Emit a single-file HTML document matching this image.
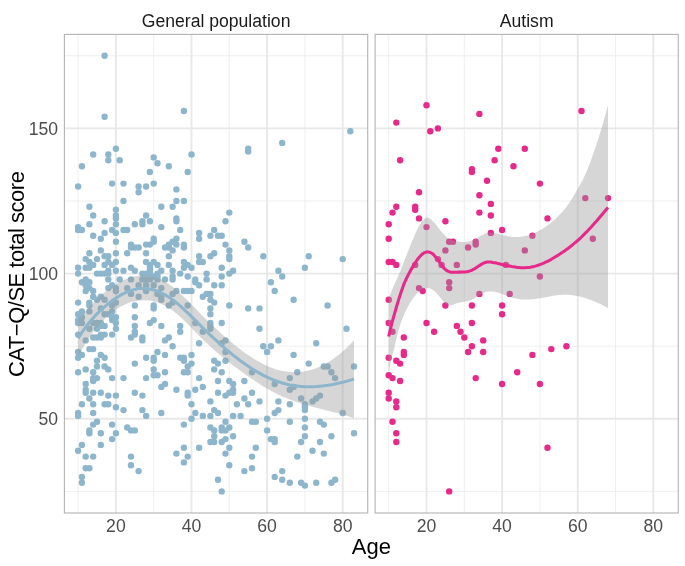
<!DOCTYPE html>
<html><head><meta charset="utf-8"><title>CAT-Q/SE total score by age</title>
<style>
html,body{margin:0;padding:0;background:#fff;}
svg{display:block;}
text{font-family:"Liberation Sans",Arial,sans-serif;}
.ax{font-size:17.6px;fill:#4d4d4d;}
.st{font-size:17.6px;fill:#1a1a1a;}
.ti{font-size:22px;fill:#000;}
</style></head><body>
<svg width="685" height="566" viewBox="0 0 685 566">
<rect width="685" height="566" fill="#fff"/>

<g>
<line x1="78.10" x2="78.10" y1="34.4" y2="513.0" stroke="#eeeeee" stroke-width="0.95"/>
<line x1="153.70" x2="153.70" y1="34.4" y2="513.0" stroke="#eeeeee" stroke-width="0.95"/>
<line x1="229.30" x2="229.30" y1="34.4" y2="513.0" stroke="#eeeeee" stroke-width="0.95"/>
<line x1="304.90" x2="304.90" y1="34.4" y2="513.0" stroke="#eeeeee" stroke-width="0.95"/>
<line x1="64.4" x2="367.7" y1="491.40" y2="491.40" stroke="#eeeeee" stroke-width="0.95"/>
<line x1="64.4" x2="367.7" y1="346.20" y2="346.20" stroke="#eeeeee" stroke-width="0.95"/>
<line x1="64.4" x2="367.7" y1="201.00" y2="201.00" stroke="#eeeeee" stroke-width="0.95"/>
<line x1="64.4" x2="367.7" y1="55.80" y2="55.80" stroke="#eeeeee" stroke-width="0.95"/>
<line x1="115.90" x2="115.90" y1="34.4" y2="513.0" stroke="#e8e8e8" stroke-width="1.9"/>
<line x1="191.50" x2="191.50" y1="34.4" y2="513.0" stroke="#e8e8e8" stroke-width="1.9"/>
<line x1="267.10" x2="267.10" y1="34.4" y2="513.0" stroke="#e8e8e8" stroke-width="1.9"/>
<line x1="342.70" x2="342.70" y1="34.4" y2="513.0" stroke="#e8e8e8" stroke-width="1.9"/>
<line x1="64.4" x2="367.7" y1="418.80" y2="418.80" stroke="#e8e8e8" stroke-width="1.9"/>
<line x1="64.4" x2="367.7" y1="273.60" y2="273.60" stroke="#e8e8e8" stroke-width="1.9"/>
<line x1="64.4" x2="367.7" y1="128.40" y2="128.40" stroke="#e8e8e8" stroke-width="1.9"/>
</g>
<g>
<line x1="388.72" x2="388.72" y1="34.4" y2="513.0" stroke="#eeeeee" stroke-width="0.95"/>
<line x1="464.32" x2="464.32" y1="34.4" y2="513.0" stroke="#eeeeee" stroke-width="0.95"/>
<line x1="539.92" x2="539.92" y1="34.4" y2="513.0" stroke="#eeeeee" stroke-width="0.95"/>
<line x1="615.52" x2="615.52" y1="34.4" y2="513.0" stroke="#eeeeee" stroke-width="0.95"/>
<line x1="375.1" x2="678.3" y1="491.40" y2="491.40" stroke="#eeeeee" stroke-width="0.95"/>
<line x1="375.1" x2="678.3" y1="346.20" y2="346.20" stroke="#eeeeee" stroke-width="0.95"/>
<line x1="375.1" x2="678.3" y1="201.00" y2="201.00" stroke="#eeeeee" stroke-width="0.95"/>
<line x1="375.1" x2="678.3" y1="55.80" y2="55.80" stroke="#eeeeee" stroke-width="0.95"/>
<line x1="426.52" x2="426.52" y1="34.4" y2="513.0" stroke="#e8e8e8" stroke-width="1.9"/>
<line x1="502.12" x2="502.12" y1="34.4" y2="513.0" stroke="#e8e8e8" stroke-width="1.9"/>
<line x1="577.72" x2="577.72" y1="34.4" y2="513.0" stroke="#e8e8e8" stroke-width="1.9"/>
<line x1="653.32" x2="653.32" y1="34.4" y2="513.0" stroke="#e8e8e8" stroke-width="1.9"/>
<line x1="375.1" x2="678.3" y1="418.80" y2="418.80" stroke="#e8e8e8" stroke-width="1.9"/>
<line x1="375.1" x2="678.3" y1="273.60" y2="273.60" stroke="#e8e8e8" stroke-width="1.9"/>
<line x1="375.1" x2="678.3" y1="128.40" y2="128.40" stroke="#e8e8e8" stroke-width="1.9"/>
</g>
<g fill="#8DB6CD">
<circle cx="78.1" cy="450.7" r="3.2"/>
<circle cx="78.1" cy="415.9" r="3.2"/>
<circle cx="78.1" cy="413.0" r="3.2"/>
<circle cx="78.1" cy="372.3" r="3.2"/>
<circle cx="78.1" cy="357.8" r="3.2"/>
<circle cx="78.1" cy="352.0" r="3.2"/>
<circle cx="78.1" cy="334.6" r="3.2"/>
<circle cx="78.1" cy="323.0" r="3.2"/>
<circle cx="78.1" cy="320.1" r="3.2"/>
<circle cx="78.1" cy="314.3" r="3.2"/>
<circle cx="78.1" cy="302.6" r="3.2"/>
<circle cx="78.1" cy="273.6" r="3.2"/>
<circle cx="78.1" cy="267.8" r="3.2"/>
<circle cx="78.1" cy="230.0" r="3.2"/>
<circle cx="78.1" cy="227.1" r="3.2"/>
<circle cx="78.1" cy="186.5" r="3.2"/>
<circle cx="81.9" cy="482.7" r="3.2"/>
<circle cx="81.9" cy="476.9" r="3.2"/>
<circle cx="81.9" cy="444.9" r="3.2"/>
<circle cx="81.9" cy="404.3" r="3.2"/>
<circle cx="81.9" cy="354.9" r="3.2"/>
<circle cx="81.9" cy="323.0" r="3.2"/>
<circle cx="81.9" cy="317.2" r="3.2"/>
<circle cx="81.9" cy="311.4" r="3.2"/>
<circle cx="81.9" cy="282.3" r="3.2"/>
<circle cx="81.9" cy="230.0" r="3.2"/>
<circle cx="81.9" cy="166.2" r="3.2"/>
<circle cx="85.7" cy="468.2" r="3.2"/>
<circle cx="85.7" cy="456.6" r="3.2"/>
<circle cx="85.7" cy="392.7" r="3.2"/>
<circle cx="85.7" cy="389.8" r="3.2"/>
<circle cx="85.7" cy="384.0" r="3.2"/>
<circle cx="85.7" cy="369.4" r="3.2"/>
<circle cx="85.7" cy="340.4" r="3.2"/>
<circle cx="85.7" cy="291.0" r="3.2"/>
<circle cx="85.7" cy="285.2" r="3.2"/>
<circle cx="85.7" cy="282.3" r="3.2"/>
<circle cx="85.7" cy="279.4" r="3.2"/>
<circle cx="85.7" cy="267.8" r="3.2"/>
<circle cx="85.7" cy="259.1" r="3.2"/>
<circle cx="89.4" cy="468.2" r="3.2"/>
<circle cx="89.4" cy="433.3" r="3.2"/>
<circle cx="89.4" cy="430.4" r="3.2"/>
<circle cx="89.4" cy="398.5" r="3.2"/>
<circle cx="89.4" cy="349.1" r="3.2"/>
<circle cx="89.4" cy="328.8" r="3.2"/>
<circle cx="89.4" cy="311.4" r="3.2"/>
<circle cx="89.4" cy="305.5" r="3.2"/>
<circle cx="89.4" cy="302.6" r="3.2"/>
<circle cx="89.4" cy="288.1" r="3.2"/>
<circle cx="89.4" cy="282.3" r="3.2"/>
<circle cx="89.4" cy="267.8" r="3.2"/>
<circle cx="89.4" cy="262.0" r="3.2"/>
<circle cx="89.4" cy="253.3" r="3.2"/>
<circle cx="89.4" cy="224.2" r="3.2"/>
<circle cx="89.4" cy="206.8" r="3.2"/>
<circle cx="93.2" cy="456.6" r="3.2"/>
<circle cx="93.2" cy="424.6" r="3.2"/>
<circle cx="93.2" cy="413.0" r="3.2"/>
<circle cx="93.2" cy="404.3" r="3.2"/>
<circle cx="93.2" cy="392.7" r="3.2"/>
<circle cx="93.2" cy="381.0" r="3.2"/>
<circle cx="93.2" cy="378.1" r="3.2"/>
<circle cx="93.2" cy="372.3" r="3.2"/>
<circle cx="93.2" cy="349.1" r="3.2"/>
<circle cx="93.2" cy="337.5" r="3.2"/>
<circle cx="93.2" cy="323.0" r="3.2"/>
<circle cx="93.2" cy="296.8" r="3.2"/>
<circle cx="93.2" cy="291.0" r="3.2"/>
<circle cx="93.2" cy="264.9" r="3.2"/>
<circle cx="93.2" cy="235.8" r="3.2"/>
<circle cx="93.2" cy="215.5" r="3.2"/>
<circle cx="93.2" cy="154.5" r="3.2"/>
<circle cx="97.0" cy="421.7" r="3.2"/>
<circle cx="97.0" cy="378.1" r="3.2"/>
<circle cx="97.0" cy="366.5" r="3.2"/>
<circle cx="97.0" cy="360.7" r="3.2"/>
<circle cx="97.0" cy="337.5" r="3.2"/>
<circle cx="97.0" cy="328.8" r="3.2"/>
<circle cx="97.0" cy="323.0" r="3.2"/>
<circle cx="97.0" cy="299.7" r="3.2"/>
<circle cx="97.0" cy="273.6" r="3.2"/>
<circle cx="97.0" cy="259.1" r="3.2"/>
<circle cx="100.8" cy="444.9" r="3.2"/>
<circle cx="100.8" cy="433.3" r="3.2"/>
<circle cx="100.8" cy="392.7" r="3.2"/>
<circle cx="100.8" cy="354.9" r="3.2"/>
<circle cx="100.8" cy="337.5" r="3.2"/>
<circle cx="100.8" cy="334.6" r="3.2"/>
<circle cx="100.8" cy="325.9" r="3.2"/>
<circle cx="100.8" cy="323.0" r="3.2"/>
<circle cx="100.8" cy="308.4" r="3.2"/>
<circle cx="100.8" cy="296.8" r="3.2"/>
<circle cx="100.8" cy="273.6" r="3.2"/>
<circle cx="100.8" cy="250.4" r="3.2"/>
<circle cx="100.8" cy="238.8" r="3.2"/>
<circle cx="104.6" cy="404.3" r="3.2"/>
<circle cx="104.6" cy="366.5" r="3.2"/>
<circle cx="104.6" cy="357.8" r="3.2"/>
<circle cx="104.6" cy="334.6" r="3.2"/>
<circle cx="104.6" cy="325.9" r="3.2"/>
<circle cx="104.6" cy="314.3" r="3.2"/>
<circle cx="104.6" cy="299.7" r="3.2"/>
<circle cx="104.6" cy="273.6" r="3.2"/>
<circle cx="104.6" cy="264.9" r="3.2"/>
<circle cx="104.6" cy="256.2" r="3.2"/>
<circle cx="104.6" cy="232.9" r="3.2"/>
<circle cx="104.6" cy="221.3" r="3.2"/>
<circle cx="104.6" cy="116.8" r="3.2"/>
<circle cx="104.6" cy="55.8" r="3.2"/>
<circle cx="108.3" cy="404.3" r="3.2"/>
<circle cx="108.3" cy="395.6" r="3.2"/>
<circle cx="108.3" cy="369.4" r="3.2"/>
<circle cx="108.3" cy="314.3" r="3.2"/>
<circle cx="108.3" cy="288.1" r="3.2"/>
<circle cx="108.3" cy="279.4" r="3.2"/>
<circle cx="108.3" cy="273.6" r="3.2"/>
<circle cx="108.3" cy="270.7" r="3.2"/>
<circle cx="108.3" cy="262.0" r="3.2"/>
<circle cx="108.3" cy="256.2" r="3.2"/>
<circle cx="108.3" cy="160.3" r="3.2"/>
<circle cx="108.3" cy="154.5" r="3.2"/>
<circle cx="112.1" cy="439.1" r="3.2"/>
<circle cx="112.1" cy="424.6" r="3.2"/>
<circle cx="112.1" cy="378.1" r="3.2"/>
<circle cx="112.1" cy="334.6" r="3.2"/>
<circle cx="112.1" cy="320.1" r="3.2"/>
<circle cx="112.1" cy="317.2" r="3.2"/>
<circle cx="112.1" cy="311.4" r="3.2"/>
<circle cx="112.1" cy="305.5" r="3.2"/>
<circle cx="112.1" cy="285.2" r="3.2"/>
<circle cx="112.1" cy="264.9" r="3.2"/>
<circle cx="112.1" cy="230.0" r="3.2"/>
<circle cx="112.1" cy="183.6" r="3.2"/>
<circle cx="115.9" cy="433.3" r="3.2"/>
<circle cx="115.9" cy="407.2" r="3.2"/>
<circle cx="115.9" cy="395.6" r="3.2"/>
<circle cx="115.9" cy="328.8" r="3.2"/>
<circle cx="115.9" cy="323.0" r="3.2"/>
<circle cx="115.9" cy="317.2" r="3.2"/>
<circle cx="115.9" cy="302.6" r="3.2"/>
<circle cx="115.9" cy="291.0" r="3.2"/>
<circle cx="115.9" cy="288.1" r="3.2"/>
<circle cx="115.9" cy="270.7" r="3.2"/>
<circle cx="115.9" cy="262.0" r="3.2"/>
<circle cx="115.9" cy="253.3" r="3.2"/>
<circle cx="115.9" cy="241.7" r="3.2"/>
<circle cx="115.9" cy="232.9" r="3.2"/>
<circle cx="115.9" cy="224.2" r="3.2"/>
<circle cx="115.9" cy="218.4" r="3.2"/>
<circle cx="115.9" cy="215.5" r="3.2"/>
<circle cx="115.9" cy="209.7" r="3.2"/>
<circle cx="115.9" cy="148.7" r="3.2"/>
<circle cx="119.7" cy="279.4" r="3.2"/>
<circle cx="119.7" cy="160.3" r="3.2"/>
<circle cx="123.5" cy="410.1" r="3.2"/>
<circle cx="123.5" cy="378.1" r="3.2"/>
<circle cx="123.5" cy="270.7" r="3.2"/>
<circle cx="123.5" cy="230.0" r="3.2"/>
<circle cx="123.5" cy="201.0" r="3.2"/>
<circle cx="123.5" cy="183.6" r="3.2"/>
<circle cx="127.2" cy="427.5" r="3.2"/>
<circle cx="127.2" cy="288.1" r="3.2"/>
<circle cx="127.2" cy="253.3" r="3.2"/>
<circle cx="127.2" cy="230.0" r="3.2"/>
<circle cx="131.0" cy="465.3" r="3.2"/>
<circle cx="131.0" cy="456.6" r="3.2"/>
<circle cx="131.0" cy="430.4" r="3.2"/>
<circle cx="131.0" cy="337.5" r="3.2"/>
<circle cx="131.0" cy="293.9" r="3.2"/>
<circle cx="131.0" cy="279.4" r="3.2"/>
<circle cx="131.0" cy="267.8" r="3.2"/>
<circle cx="131.0" cy="247.5" r="3.2"/>
<circle cx="131.0" cy="244.6" r="3.2"/>
<circle cx="134.8" cy="430.4" r="3.2"/>
<circle cx="134.8" cy="392.7" r="3.2"/>
<circle cx="134.8" cy="363.6" r="3.2"/>
<circle cx="134.8" cy="334.6" r="3.2"/>
<circle cx="134.8" cy="331.7" r="3.2"/>
<circle cx="134.8" cy="325.9" r="3.2"/>
<circle cx="134.8" cy="317.2" r="3.2"/>
<circle cx="134.8" cy="305.5" r="3.2"/>
<circle cx="134.8" cy="270.7" r="3.2"/>
<circle cx="134.8" cy="247.5" r="3.2"/>
<circle cx="134.8" cy="224.2" r="3.2"/>
<circle cx="138.6" cy="471.1" r="3.2"/>
<circle cx="138.6" cy="296.8" r="3.2"/>
<circle cx="138.6" cy="285.2" r="3.2"/>
<circle cx="138.6" cy="247.5" r="3.2"/>
<circle cx="138.6" cy="192.3" r="3.2"/>
<circle cx="138.6" cy="186.5" r="3.2"/>
<circle cx="142.4" cy="410.1" r="3.2"/>
<circle cx="142.4" cy="395.6" r="3.2"/>
<circle cx="142.4" cy="340.4" r="3.2"/>
<circle cx="142.4" cy="337.5" r="3.2"/>
<circle cx="142.4" cy="279.4" r="3.2"/>
<circle cx="142.4" cy="273.6" r="3.2"/>
<circle cx="142.4" cy="224.2" r="3.2"/>
<circle cx="142.4" cy="221.3" r="3.2"/>
<circle cx="146.1" cy="415.9" r="3.2"/>
<circle cx="146.1" cy="378.1" r="3.2"/>
<circle cx="146.1" cy="357.8" r="3.2"/>
<circle cx="146.1" cy="291.0" r="3.2"/>
<circle cx="146.1" cy="285.2" r="3.2"/>
<circle cx="146.1" cy="279.4" r="3.2"/>
<circle cx="146.1" cy="273.6" r="3.2"/>
<circle cx="146.1" cy="262.0" r="3.2"/>
<circle cx="146.1" cy="253.3" r="3.2"/>
<circle cx="146.1" cy="244.6" r="3.2"/>
<circle cx="146.1" cy="215.5" r="3.2"/>
<circle cx="146.1" cy="186.5" r="3.2"/>
<circle cx="149.9" cy="323.0" r="3.2"/>
<circle cx="149.9" cy="279.4" r="3.2"/>
<circle cx="149.9" cy="273.6" r="3.2"/>
<circle cx="149.9" cy="270.7" r="3.2"/>
<circle cx="149.9" cy="267.8" r="3.2"/>
<circle cx="149.9" cy="264.9" r="3.2"/>
<circle cx="149.9" cy="244.6" r="3.2"/>
<circle cx="149.9" cy="221.3" r="3.2"/>
<circle cx="149.9" cy="172.0" r="3.2"/>
<circle cx="153.7" cy="375.2" r="3.2"/>
<circle cx="153.7" cy="369.4" r="3.2"/>
<circle cx="153.7" cy="360.7" r="3.2"/>
<circle cx="153.7" cy="357.8" r="3.2"/>
<circle cx="153.7" cy="320.1" r="3.2"/>
<circle cx="153.7" cy="308.4" r="3.2"/>
<circle cx="153.7" cy="305.5" r="3.2"/>
<circle cx="153.7" cy="285.2" r="3.2"/>
<circle cx="153.7" cy="276.5" r="3.2"/>
<circle cx="153.7" cy="262.0" r="3.2"/>
<circle cx="153.7" cy="241.7" r="3.2"/>
<circle cx="153.7" cy="238.8" r="3.2"/>
<circle cx="153.7" cy="183.6" r="3.2"/>
<circle cx="153.7" cy="157.4" r="3.2"/>
<circle cx="157.5" cy="375.2" r="3.2"/>
<circle cx="157.5" cy="352.0" r="3.2"/>
<circle cx="157.5" cy="293.9" r="3.2"/>
<circle cx="157.5" cy="279.4" r="3.2"/>
<circle cx="157.5" cy="276.5" r="3.2"/>
<circle cx="157.5" cy="273.6" r="3.2"/>
<circle cx="157.5" cy="264.9" r="3.2"/>
<circle cx="157.5" cy="163.2" r="3.2"/>
<circle cx="161.3" cy="413.0" r="3.2"/>
<circle cx="161.3" cy="386.9" r="3.2"/>
<circle cx="161.3" cy="325.9" r="3.2"/>
<circle cx="161.3" cy="299.7" r="3.2"/>
<circle cx="161.3" cy="296.8" r="3.2"/>
<circle cx="161.3" cy="288.1" r="3.2"/>
<circle cx="161.3" cy="270.7" r="3.2"/>
<circle cx="161.3" cy="227.1" r="3.2"/>
<circle cx="161.3" cy="206.8" r="3.2"/>
<circle cx="165.0" cy="384.0" r="3.2"/>
<circle cx="165.0" cy="372.3" r="3.2"/>
<circle cx="165.0" cy="354.9" r="3.2"/>
<circle cx="165.0" cy="340.4" r="3.2"/>
<circle cx="165.0" cy="279.4" r="3.2"/>
<circle cx="165.0" cy="247.5" r="3.2"/>
<circle cx="168.8" cy="337.5" r="3.2"/>
<circle cx="168.8" cy="305.5" r="3.2"/>
<circle cx="168.8" cy="264.9" r="3.2"/>
<circle cx="168.8" cy="256.2" r="3.2"/>
<circle cx="168.8" cy="247.5" r="3.2"/>
<circle cx="168.8" cy="244.6" r="3.2"/>
<circle cx="168.8" cy="166.2" r="3.2"/>
<circle cx="172.6" cy="346.2" r="3.2"/>
<circle cx="172.6" cy="302.6" r="3.2"/>
<circle cx="172.6" cy="293.9" r="3.2"/>
<circle cx="172.6" cy="279.4" r="3.2"/>
<circle cx="172.6" cy="276.5" r="3.2"/>
<circle cx="172.6" cy="270.7" r="3.2"/>
<circle cx="172.6" cy="250.4" r="3.2"/>
<circle cx="172.6" cy="241.7" r="3.2"/>
<circle cx="172.6" cy="206.8" r="3.2"/>
<circle cx="176.4" cy="453.6" r="3.2"/>
<circle cx="176.4" cy="389.8" r="3.2"/>
<circle cx="176.4" cy="291.0" r="3.2"/>
<circle cx="176.4" cy="244.6" r="3.2"/>
<circle cx="176.4" cy="238.8" r="3.2"/>
<circle cx="176.4" cy="221.3" r="3.2"/>
<circle cx="176.4" cy="218.4" r="3.2"/>
<circle cx="176.4" cy="201.0" r="3.2"/>
<circle cx="176.4" cy="189.4" r="3.2"/>
<circle cx="180.2" cy="357.8" r="3.2"/>
<circle cx="180.2" cy="331.7" r="3.2"/>
<circle cx="180.2" cy="325.9" r="3.2"/>
<circle cx="180.2" cy="273.6" r="3.2"/>
<circle cx="180.2" cy="230.0" r="3.2"/>
<circle cx="183.9" cy="462.4" r="3.2"/>
<circle cx="183.9" cy="447.8" r="3.2"/>
<circle cx="183.9" cy="424.6" r="3.2"/>
<circle cx="183.9" cy="372.3" r="3.2"/>
<circle cx="183.9" cy="360.7" r="3.2"/>
<circle cx="183.9" cy="357.8" r="3.2"/>
<circle cx="183.9" cy="291.0" r="3.2"/>
<circle cx="183.9" cy="267.8" r="3.2"/>
<circle cx="183.9" cy="262.0" r="3.2"/>
<circle cx="183.9" cy="247.5" r="3.2"/>
<circle cx="183.9" cy="244.6" r="3.2"/>
<circle cx="183.9" cy="201.0" r="3.2"/>
<circle cx="183.9" cy="111.0" r="3.2"/>
<circle cx="187.7" cy="456.6" r="3.2"/>
<circle cx="187.7" cy="395.6" r="3.2"/>
<circle cx="187.7" cy="392.7" r="3.2"/>
<circle cx="187.7" cy="372.3" r="3.2"/>
<circle cx="187.7" cy="366.5" r="3.2"/>
<circle cx="187.7" cy="305.5" r="3.2"/>
<circle cx="187.7" cy="291.0" r="3.2"/>
<circle cx="187.7" cy="276.5" r="3.2"/>
<circle cx="187.7" cy="264.9" r="3.2"/>
<circle cx="187.7" cy="172.0" r="3.2"/>
<circle cx="191.5" cy="418.8" r="3.2"/>
<circle cx="191.5" cy="404.3" r="3.2"/>
<circle cx="191.5" cy="363.6" r="3.2"/>
<circle cx="191.5" cy="354.9" r="3.2"/>
<circle cx="191.5" cy="291.0" r="3.2"/>
<circle cx="191.5" cy="267.8" r="3.2"/>
<circle cx="191.5" cy="154.5" r="3.2"/>
<circle cx="195.3" cy="413.0" r="3.2"/>
<circle cx="195.3" cy="389.8" r="3.2"/>
<circle cx="195.3" cy="323.0" r="3.2"/>
<circle cx="195.3" cy="282.3" r="3.2"/>
<circle cx="195.3" cy="279.4" r="3.2"/>
<circle cx="199.1" cy="447.8" r="3.2"/>
<circle cx="199.1" cy="378.1" r="3.2"/>
<circle cx="199.1" cy="343.3" r="3.2"/>
<circle cx="199.1" cy="285.2" r="3.2"/>
<circle cx="199.1" cy="262.0" r="3.2"/>
<circle cx="199.1" cy="256.2" r="3.2"/>
<circle cx="199.1" cy="238.8" r="3.2"/>
<circle cx="199.1" cy="232.9" r="3.2"/>
<circle cx="202.8" cy="415.9" r="3.2"/>
<circle cx="202.8" cy="386.9" r="3.2"/>
<circle cx="202.8" cy="331.7" r="3.2"/>
<circle cx="202.8" cy="296.8" r="3.2"/>
<circle cx="202.8" cy="262.0" r="3.2"/>
<circle cx="206.6" cy="293.9" r="3.2"/>
<circle cx="206.6" cy="279.4" r="3.2"/>
<circle cx="206.6" cy="273.6" r="3.2"/>
<circle cx="210.4" cy="442.0" r="3.2"/>
<circle cx="210.4" cy="427.5" r="3.2"/>
<circle cx="210.4" cy="415.9" r="3.2"/>
<circle cx="210.4" cy="401.4" r="3.2"/>
<circle cx="210.4" cy="328.8" r="3.2"/>
<circle cx="210.4" cy="325.9" r="3.2"/>
<circle cx="210.4" cy="323.0" r="3.2"/>
<circle cx="210.4" cy="314.3" r="3.2"/>
<circle cx="210.4" cy="308.4" r="3.2"/>
<circle cx="210.4" cy="299.7" r="3.2"/>
<circle cx="210.4" cy="293.9" r="3.2"/>
<circle cx="210.4" cy="256.2" r="3.2"/>
<circle cx="210.4" cy="235.8" r="3.2"/>
<circle cx="214.2" cy="442.0" r="3.2"/>
<circle cx="214.2" cy="436.2" r="3.2"/>
<circle cx="214.2" cy="430.4" r="3.2"/>
<circle cx="214.2" cy="410.1" r="3.2"/>
<circle cx="214.2" cy="369.4" r="3.2"/>
<circle cx="214.2" cy="360.7" r="3.2"/>
<circle cx="214.2" cy="302.6" r="3.2"/>
<circle cx="214.2" cy="285.2" r="3.2"/>
<circle cx="214.2" cy="253.3" r="3.2"/>
<circle cx="214.2" cy="230.0" r="3.2"/>
<circle cx="218.0" cy="479.8" r="3.2"/>
<circle cx="218.0" cy="413.0" r="3.2"/>
<circle cx="218.0" cy="392.7" r="3.2"/>
<circle cx="218.0" cy="381.0" r="3.2"/>
<circle cx="218.0" cy="363.6" r="3.2"/>
<circle cx="218.0" cy="235.8" r="3.2"/>
<circle cx="221.7" cy="491.4" r="3.2"/>
<circle cx="221.7" cy="442.0" r="3.2"/>
<circle cx="221.7" cy="430.4" r="3.2"/>
<circle cx="221.7" cy="427.5" r="3.2"/>
<circle cx="221.7" cy="372.3" r="3.2"/>
<circle cx="221.7" cy="343.3" r="3.2"/>
<circle cx="221.7" cy="323.0" r="3.2"/>
<circle cx="221.7" cy="285.2" r="3.2"/>
<circle cx="221.7" cy="276.5" r="3.2"/>
<circle cx="221.7" cy="267.8" r="3.2"/>
<circle cx="221.7" cy="235.8" r="3.2"/>
<circle cx="225.5" cy="453.6" r="3.2"/>
<circle cx="225.5" cy="439.1" r="3.2"/>
<circle cx="225.5" cy="430.4" r="3.2"/>
<circle cx="225.5" cy="421.7" r="3.2"/>
<circle cx="225.5" cy="395.6" r="3.2"/>
<circle cx="225.5" cy="360.7" r="3.2"/>
<circle cx="225.5" cy="352.0" r="3.2"/>
<circle cx="225.5" cy="340.4" r="3.2"/>
<circle cx="225.5" cy="244.6" r="3.2"/>
<circle cx="225.5" cy="221.3" r="3.2"/>
<circle cx="229.3" cy="465.3" r="3.2"/>
<circle cx="229.3" cy="447.8" r="3.2"/>
<circle cx="229.3" cy="427.5" r="3.2"/>
<circle cx="229.3" cy="392.7" r="3.2"/>
<circle cx="229.3" cy="381.0" r="3.2"/>
<circle cx="229.3" cy="305.5" r="3.2"/>
<circle cx="229.3" cy="273.6" r="3.2"/>
<circle cx="229.3" cy="259.1" r="3.2"/>
<circle cx="229.3" cy="256.2" r="3.2"/>
<circle cx="229.3" cy="250.4" r="3.2"/>
<circle cx="229.3" cy="212.6" r="3.2"/>
<circle cx="233.1" cy="436.2" r="3.2"/>
<circle cx="233.1" cy="415.9" r="3.2"/>
<circle cx="233.1" cy="392.7" r="3.2"/>
<circle cx="233.1" cy="389.8" r="3.2"/>
<circle cx="233.1" cy="384.0" r="3.2"/>
<circle cx="233.1" cy="270.7" r="3.2"/>
<circle cx="236.9" cy="404.3" r="3.2"/>
<circle cx="240.6" cy="415.9" r="3.2"/>
<circle cx="244.4" cy="471.1" r="3.2"/>
<circle cx="244.4" cy="398.5" r="3.2"/>
<circle cx="244.4" cy="381.0" r="3.2"/>
<circle cx="244.4" cy="241.7" r="3.2"/>
<circle cx="248.2" cy="404.3" r="3.2"/>
<circle cx="248.2" cy="308.4" r="3.2"/>
<circle cx="248.2" cy="247.5" r="3.2"/>
<circle cx="248.2" cy="151.6" r="3.2"/>
<circle cx="248.2" cy="148.7" r="3.2"/>
<circle cx="252.0" cy="468.2" r="3.2"/>
<circle cx="252.0" cy="456.6" r="3.2"/>
<circle cx="252.0" cy="421.7" r="3.2"/>
<circle cx="252.0" cy="392.7" r="3.2"/>
<circle cx="252.0" cy="372.3" r="3.2"/>
<circle cx="255.8" cy="447.8" r="3.2"/>
<circle cx="255.8" cy="421.7" r="3.2"/>
<circle cx="259.5" cy="401.4" r="3.2"/>
<circle cx="259.5" cy="328.8" r="3.2"/>
<circle cx="259.5" cy="308.4" r="3.2"/>
<circle cx="263.3" cy="346.2" r="3.2"/>
<circle cx="263.3" cy="256.2" r="3.2"/>
<circle cx="267.1" cy="430.4" r="3.2"/>
<circle cx="267.1" cy="418.8" r="3.2"/>
<circle cx="267.1" cy="352.0" r="3.2"/>
<circle cx="270.9" cy="439.1" r="3.2"/>
<circle cx="270.9" cy="346.2" r="3.2"/>
<circle cx="270.9" cy="282.3" r="3.2"/>
<circle cx="274.7" cy="476.9" r="3.2"/>
<circle cx="274.7" cy="442.0" r="3.2"/>
<circle cx="274.7" cy="439.1" r="3.2"/>
<circle cx="274.7" cy="413.0" r="3.2"/>
<circle cx="274.7" cy="384.0" r="3.2"/>
<circle cx="274.7" cy="291.0" r="3.2"/>
<circle cx="278.4" cy="410.1" r="3.2"/>
<circle cx="278.4" cy="401.4" r="3.2"/>
<circle cx="278.4" cy="340.4" r="3.2"/>
<circle cx="278.4" cy="270.7" r="3.2"/>
<circle cx="282.2" cy="479.8" r="3.2"/>
<circle cx="282.2" cy="471.1" r="3.2"/>
<circle cx="282.2" cy="276.5" r="3.2"/>
<circle cx="282.2" cy="142.9" r="3.2"/>
<circle cx="289.8" cy="482.7" r="3.2"/>
<circle cx="289.8" cy="421.7" r="3.2"/>
<circle cx="289.8" cy="404.3" r="3.2"/>
<circle cx="289.8" cy="389.8" r="3.2"/>
<circle cx="289.8" cy="378.1" r="3.2"/>
<circle cx="293.6" cy="386.9" r="3.2"/>
<circle cx="293.6" cy="354.9" r="3.2"/>
<circle cx="293.6" cy="299.7" r="3.2"/>
<circle cx="297.3" cy="456.6" r="3.2"/>
<circle cx="297.3" cy="372.3" r="3.2"/>
<circle cx="301.1" cy="482.7" r="3.2"/>
<circle cx="301.1" cy="442.0" r="3.2"/>
<circle cx="301.1" cy="398.5" r="3.2"/>
<circle cx="304.9" cy="485.6" r="3.2"/>
<circle cx="304.9" cy="436.2" r="3.2"/>
<circle cx="304.9" cy="427.5" r="3.2"/>
<circle cx="304.9" cy="418.8" r="3.2"/>
<circle cx="304.9" cy="410.1" r="3.2"/>
<circle cx="304.9" cy="407.2" r="3.2"/>
<circle cx="304.9" cy="404.3" r="3.2"/>
<circle cx="304.9" cy="267.8" r="3.2"/>
<circle cx="308.7" cy="363.6" r="3.2"/>
<circle cx="308.7" cy="256.2" r="3.2"/>
<circle cx="312.5" cy="450.7" r="3.2"/>
<circle cx="312.5" cy="401.4" r="3.2"/>
<circle cx="316.2" cy="482.7" r="3.2"/>
<circle cx="316.2" cy="398.5" r="3.2"/>
<circle cx="316.2" cy="343.3" r="3.2"/>
<circle cx="320.0" cy="442.0" r="3.2"/>
<circle cx="320.0" cy="421.7" r="3.2"/>
<circle cx="320.0" cy="395.6" r="3.2"/>
<circle cx="323.8" cy="453.6" r="3.2"/>
<circle cx="323.8" cy="424.6" r="3.2"/>
<circle cx="323.8" cy="366.5" r="3.2"/>
<circle cx="327.6" cy="366.5" r="3.2"/>
<circle cx="327.6" cy="305.5" r="3.2"/>
<circle cx="331.4" cy="482.7" r="3.2"/>
<circle cx="331.4" cy="436.2" r="3.2"/>
<circle cx="331.4" cy="372.3" r="3.2"/>
<circle cx="335.1" cy="479.8" r="3.2"/>
<circle cx="335.1" cy="378.1" r="3.2"/>
<circle cx="342.7" cy="413.0" r="3.2"/>
<circle cx="342.7" cy="259.1" r="3.2"/>
<circle cx="346.5" cy="328.8" r="3.2"/>
<circle cx="350.3" cy="131.3" r="3.2"/>
<circle cx="354.0" cy="433.3" r="3.2"/>
<circle cx="354.0" cy="366.5" r="3.2"/>
</g>
<g fill="#E7298A">
<circle cx="388.7" cy="398.5" r="3.2"/>
<circle cx="388.7" cy="392.7" r="3.2"/>
<circle cx="388.7" cy="375.2" r="3.2"/>
<circle cx="388.7" cy="357.8" r="3.2"/>
<circle cx="388.7" cy="323.0" r="3.2"/>
<circle cx="388.7" cy="299.7" r="3.2"/>
<circle cx="388.7" cy="262.0" r="3.2"/>
<circle cx="388.7" cy="238.8" r="3.2"/>
<circle cx="388.7" cy="224.2" r="3.2"/>
<circle cx="392.5" cy="421.7" r="3.2"/>
<circle cx="392.5" cy="378.1" r="3.2"/>
<circle cx="392.5" cy="331.7" r="3.2"/>
<circle cx="392.5" cy="262.0" r="3.2"/>
<circle cx="392.5" cy="212.6" r="3.2"/>
<circle cx="396.3" cy="442.0" r="3.2"/>
<circle cx="396.3" cy="433.3" r="3.2"/>
<circle cx="396.3" cy="407.2" r="3.2"/>
<circle cx="396.3" cy="401.4" r="3.2"/>
<circle cx="396.3" cy="360.7" r="3.2"/>
<circle cx="396.3" cy="264.9" r="3.2"/>
<circle cx="396.3" cy="206.8" r="3.2"/>
<circle cx="396.3" cy="122.6" r="3.2"/>
<circle cx="400.1" cy="381.0" r="3.2"/>
<circle cx="400.1" cy="363.6" r="3.2"/>
<circle cx="400.1" cy="160.3" r="3.2"/>
<circle cx="403.8" cy="354.9" r="3.2"/>
<circle cx="403.8" cy="352.0" r="3.2"/>
<circle cx="403.8" cy="337.5" r="3.2"/>
<circle cx="415.2" cy="264.9" r="3.2"/>
<circle cx="415.2" cy="209.7" r="3.2"/>
<circle cx="415.2" cy="206.8" r="3.2"/>
<circle cx="419.0" cy="288.1" r="3.2"/>
<circle cx="419.0" cy="218.4" r="3.2"/>
<circle cx="419.0" cy="192.3" r="3.2"/>
<circle cx="422.7" cy="291.0" r="3.2"/>
<circle cx="426.5" cy="323.0" r="3.2"/>
<circle cx="426.5" cy="227.1" r="3.2"/>
<circle cx="426.5" cy="105.2" r="3.2"/>
<circle cx="430.3" cy="131.3" r="3.2"/>
<circle cx="434.1" cy="331.7" r="3.2"/>
<circle cx="437.9" cy="259.1" r="3.2"/>
<circle cx="437.9" cy="128.4" r="3.2"/>
<circle cx="441.6" cy="264.9" r="3.2"/>
<circle cx="445.4" cy="305.5" r="3.2"/>
<circle cx="445.4" cy="250.4" r="3.2"/>
<circle cx="445.4" cy="221.3" r="3.2"/>
<circle cx="449.2" cy="491.4" r="3.2"/>
<circle cx="449.2" cy="288.1" r="3.2"/>
<circle cx="449.2" cy="282.3" r="3.2"/>
<circle cx="449.2" cy="241.7" r="3.2"/>
<circle cx="453.0" cy="241.7" r="3.2"/>
<circle cx="456.8" cy="325.9" r="3.2"/>
<circle cx="456.8" cy="264.9" r="3.2"/>
<circle cx="460.5" cy="331.7" r="3.2"/>
<circle cx="464.3" cy="337.5" r="3.2"/>
<circle cx="468.1" cy="352.0" r="3.2"/>
<circle cx="468.1" cy="247.5" r="3.2"/>
<circle cx="471.9" cy="346.2" r="3.2"/>
<circle cx="471.9" cy="323.0" r="3.2"/>
<circle cx="471.9" cy="305.5" r="3.2"/>
<circle cx="471.9" cy="172.0" r="3.2"/>
<circle cx="471.9" cy="169.1" r="3.2"/>
<circle cx="475.7" cy="378.1" r="3.2"/>
<circle cx="475.7" cy="244.6" r="3.2"/>
<circle cx="475.7" cy="241.7" r="3.2"/>
<circle cx="479.4" cy="293.9" r="3.2"/>
<circle cx="479.4" cy="212.6" r="3.2"/>
<circle cx="479.4" cy="195.2" r="3.2"/>
<circle cx="479.4" cy="113.9" r="3.2"/>
<circle cx="483.2" cy="352.0" r="3.2"/>
<circle cx="483.2" cy="340.4" r="3.2"/>
<circle cx="487.0" cy="180.7" r="3.2"/>
<circle cx="490.8" cy="232.9" r="3.2"/>
<circle cx="490.8" cy="215.5" r="3.2"/>
<circle cx="490.8" cy="203.9" r="3.2"/>
<circle cx="494.6" cy="160.3" r="3.2"/>
<circle cx="498.3" cy="148.7" r="3.2"/>
<circle cx="502.1" cy="384.0" r="3.2"/>
<circle cx="502.1" cy="314.3" r="3.2"/>
<circle cx="502.1" cy="305.5" r="3.2"/>
<circle cx="502.1" cy="230.0" r="3.2"/>
<circle cx="505.9" cy="264.9" r="3.2"/>
<circle cx="509.7" cy="293.9" r="3.2"/>
<circle cx="513.5" cy="166.2" r="3.2"/>
<circle cx="517.2" cy="372.3" r="3.2"/>
<circle cx="524.8" cy="250.4" r="3.2"/>
<circle cx="524.8" cy="148.7" r="3.2"/>
<circle cx="532.4" cy="354.9" r="3.2"/>
<circle cx="532.4" cy="235.8" r="3.2"/>
<circle cx="539.9" cy="384.0" r="3.2"/>
<circle cx="539.9" cy="276.5" r="3.2"/>
<circle cx="539.9" cy="183.6" r="3.2"/>
<circle cx="547.5" cy="447.8" r="3.2"/>
<circle cx="547.5" cy="218.4" r="3.2"/>
<circle cx="551.3" cy="349.1" r="3.2"/>
<circle cx="566.4" cy="346.2" r="3.2"/>
<circle cx="581.5" cy="111.0" r="3.2"/>
<circle cx="585.3" cy="198.1" r="3.2"/>
<circle cx="592.8" cy="238.8" r="3.2"/>
<circle cx="608.0" cy="198.1" r="3.2"/>
</g>
<path d="M78.1,319.6 L81.9,315.3 L85.7,311.0 L89.4,306.9 L93.2,302.9 L97.0,299.1 L100.8,295.6 L104.6,292.2 L108.3,289.2 L112.1,286.5 L115.9,284.1 L119.7,281.9 L123.5,280.1 L127.2,278.6 L131.0,277.3 L134.8,276.4 L138.6,275.8 L142.4,275.6 L146.1,275.6 L149.9,276.0 L153.7,276.8 L157.5,277.9 L161.3,279.5 L165.0,281.6 L168.8,284.0 L172.6,286.8 L176.4,289.9 L180.2,293.3 L183.9,296.9 L187.7,300.6 L191.5,304.4 L195.3,308.3 L199.1,312.2 L202.8,316.0 L206.6,319.8 L210.4,323.4 L214.2,327.1 L218.0,330.6 L221.7,334.0 L225.5,337.3 L229.3,340.6 L233.1,343.7 L236.9,346.7 L240.6,349.6 L244.4,352.4 L248.2,355.1 L252.0,357.6 L255.8,359.9 L259.5,362.1 L263.3,364.1 L267.1,365.9 L270.9,367.5 L274.7,368.9 L278.4,370.0 L282.2,370.9 L286.0,371.6 L289.8,372.1 L293.6,372.2 L297.3,372.2 L301.1,371.9 L304.9,371.3 L308.7,370.5 L312.5,369.5 L316.2,368.2 L320.0,366.6 L323.8,364.7 L327.6,362.6 L331.4,360.3 L335.1,357.6 L338.9,354.7 L342.7,351.5 L346.5,348.1 L350.3,344.3 L354.0,340.3 L354.0,418.2 L350.3,416.9 L346.5,415.8 L342.7,414.7 L338.9,413.6 L335.1,412.6 L331.4,411.7 L327.6,410.7 L323.8,409.7 L320.0,408.8 L316.2,407.8 L312.5,406.8 L308.7,405.7 L304.9,404.6 L301.1,403.5 L297.3,402.2 L293.6,400.9 L289.8,399.5 L286.0,398.0 L282.2,396.4 L278.4,394.7 L274.7,392.8 L270.9,390.8 L267.1,388.6 L263.3,386.4 L259.5,384.0 L255.8,381.6 L252.0,379.1 L248.2,376.5 L244.4,373.8 L240.6,371.0 L236.9,368.2 L233.1,365.4 L229.3,362.5 L225.5,359.5 L221.7,356.4 L218.0,353.3 L214.2,350.0 L210.4,346.6 L206.6,343.1 L202.8,339.5 L199.1,335.7 L195.3,331.8 L191.5,327.9 L187.7,324.0 L183.9,320.3 L180.2,316.7 L176.4,313.4 L172.6,310.5 L168.8,307.9 L165.0,305.7 L161.3,303.9 L157.5,302.4 L153.7,301.3 L149.9,300.6 L146.1,300.2 L142.4,300.2 L138.6,300.5 L134.8,301.2 L131.0,302.1 L127.2,303.5 L123.5,305.2 L119.7,307.3 L115.9,309.7 L112.1,312.5 L108.3,315.6 L104.6,319.2 L100.8,323.1 L97.0,327.4 L93.2,332.1 L89.4,337.4 L85.7,343.1 L81.9,349.5 L78.1,356.4Z" fill="#999999" fill-opacity="0.4"/>
<path d="M78.1,338.3 L81.9,332.4 L85.7,327.1 L89.4,322.3 L93.2,317.9 L97.0,313.9 L100.8,310.2 L104.6,306.8 L108.3,303.7 L112.1,300.8 L115.9,298.1 L119.7,295.7 L123.5,293.6 L127.2,291.9 L131.0,290.4 L134.8,289.4 L138.6,288.6 L142.4,288.4 L146.1,288.5 L149.9,289.0 L153.7,289.9 L157.5,291.1 L161.3,292.8 L165.0,294.8 L168.8,297.1 L172.6,299.7 L176.4,302.7 L180.2,305.9 L183.9,309.3 L187.7,312.9 L191.5,316.6 L195.3,320.3 L199.1,324.1 L202.8,327.8 L206.6,331.5 L210.4,335.1 L214.2,338.7 L218.0,342.1 L221.7,345.5 L225.5,348.8 L229.3,352.0 L233.1,355.1 L236.9,358.0 L240.6,360.9 L244.4,363.6 L248.2,366.2 L252.0,368.7 L255.8,371.1 L259.5,373.2 L263.3,375.3 L267.1,377.2 L270.9,378.9 L274.7,380.4 L278.4,381.8 L282.2,383.0 L286.0,384.0 L289.8,384.9 L293.6,385.5 L297.3,386.1 L301.1,386.4 L304.9,386.7 L308.7,386.8 L312.5,386.7 L316.2,386.6 L320.0,386.2 L323.8,385.8 L327.6,385.3 L331.4,384.7 L335.1,384.0 L338.9,383.1 L342.7,382.2 L346.5,381.2 L350.3,380.1 L354.0,379.0" fill="none" stroke="#8DB6CD" stroke-width="3.05" stroke-linejoin="round"/>
<path d="M388.7,298.6 L390.6,293.5 L392.5,288.8 L394.4,284.5 L396.3,280.2 L398.2,275.9 L400.1,271.4 L402.0,266.8 L403.8,262.1 L405.7,257.3 L407.6,252.5 L409.5,247.7 L411.4,242.8 L413.3,238.2 L415.2,233.8 L417.1,229.7 L419.0,226.0 L420.9,222.9 L422.7,220.4 L424.6,218.7 L426.5,217.7 L428.4,217.8 L430.3,218.8 L432.2,220.5 L434.1,222.5 L436.0,224.8 L437.9,227.2 L439.8,229.6 L441.6,231.9 L443.5,234.0 L445.4,235.9 L447.3,237.5 L449.2,238.8 L451.1,239.8 L453.0,240.6 L454.9,241.1 L456.8,241.5 L458.7,241.8 L460.5,242.0 L462.4,242.0 L464.3,242.0 L466.2,241.9 L468.1,241.6 L470.0,241.2 L471.9,240.6 L473.8,239.8 L475.7,238.8 L477.6,237.7 L479.4,236.5 L481.3,235.4 L483.2,234.4 L485.1,233.6 L487.0,233.1 L488.9,232.8 L490.8,232.7 L492.7,232.8 L494.6,233.0 L496.5,233.4 L498.3,233.8 L500.2,234.3 L502.1,234.9 L504.0,235.4 L505.9,235.8 L507.8,236.2 L509.7,236.5 L511.6,236.8 L513.5,237.0 L515.4,237.0 L517.2,237.0 L519.1,236.9 L521.0,236.7 L522.9,236.5 L524.8,236.1 L526.7,235.7 L528.6,235.2 L530.5,234.6 L532.4,233.9 L534.2,233.1 L536.1,232.3 L538.0,231.3 L539.9,230.3 L541.8,229.2 L543.7,228.0 L545.6,226.8 L547.5,225.4 L549.4,224.0 L551.3,222.5 L553.1,220.9 L555.0,219.2 L556.9,217.4 L558.8,215.5 L560.7,213.5 L562.6,211.4 L564.5,209.2 L566.4,206.9 L568.3,204.3 L570.2,201.6 L572.0,198.5 L573.9,195.4 L575.8,192.2 L577.7,188.9 L579.6,185.6 L581.5,182.2 L583.4,178.4 L585.3,174.3 L587.2,169.9 L589.1,165.2 L591.0,160.2 L592.8,155.0 L594.7,149.6 L596.6,144.0 L598.5,138.1 L600.4,132.0 L602.3,125.7 L604.2,119.1 L606.1,112.3 L608.0,105.2 L608.0,307.9 L606.1,306.9 L604.2,306.0 L602.3,305.1 L600.4,304.1 L598.5,303.2 L596.6,302.4 L594.7,301.6 L592.8,300.8 L591.0,300.1 L589.1,299.4 L587.2,298.7 L585.3,298.1 L583.4,297.5 L581.5,296.9 L579.6,296.5 L577.7,296.0 L575.8,295.7 L573.9,295.4 L572.0,295.1 L570.2,294.9 L568.3,294.8 L566.4,294.7 L564.5,294.7 L562.6,294.7 L560.7,294.9 L558.8,295.0 L556.9,295.3 L555.0,295.5 L553.1,295.8 L551.3,296.2 L549.4,296.5 L547.5,296.9 L545.6,297.2 L543.7,297.6 L541.8,297.9 L539.9,298.3 L538.0,298.6 L536.1,298.9 L534.2,299.1 L532.4,299.3 L530.5,299.5 L528.6,299.6 L526.7,299.6 L524.8,299.6 L522.9,299.5 L521.0,299.4 L519.1,299.1 L517.2,298.8 L515.4,298.5 L513.5,298.0 L511.6,297.4 L509.7,296.8 L507.8,296.2 L505.9,295.4 L504.0,294.7 L502.1,294.0 L500.2,293.3 L498.3,292.7 L496.5,292.2 L494.6,291.8 L492.7,291.5 L490.8,291.4 L488.9,291.5 L487.0,291.8 L485.1,292.3 L483.2,293.0 L481.3,294.0 L479.4,295.2 L477.6,296.4 L475.7,297.6 L473.8,298.7 L471.9,299.6 L470.0,300.4 L468.1,301.0 L466.2,301.4 L464.3,301.7 L462.4,302.0 L460.5,302.4 L458.7,302.8 L456.8,303.3 L454.9,303.9 L453.0,304.7 L451.1,305.3 L449.2,305.4 L447.3,304.8 L445.4,303.4 L443.5,301.5 L441.6,299.3 L439.8,296.9 L437.9,294.6 L436.0,292.4 L434.1,290.7 L432.2,289.4 L430.3,288.5 L428.4,288.0 L426.5,288.0 L424.6,288.3 L422.7,289.0 L420.9,290.0 L419.0,291.5 L417.1,293.2 L415.2,295.4 L413.3,297.8 L411.4,300.7 L409.5,303.8 L407.6,307.3 L405.7,311.1 L403.8,315.3 L402.0,319.8 L400.1,324.9 L398.2,331.4 L396.3,339.5 L394.4,347.5 L392.5,354.2 L390.6,363.0 L388.7,373.5Z" fill="#999999" fill-opacity="0.4"/>
<path d="M388.7,336.5 L390.6,328.2 L392.5,320.9 L394.4,314.1 L396.3,307.5 L398.2,301.1 L400.1,295.1 L402.0,289.5 L403.8,284.4 L405.7,280.0 L407.6,276.1 L409.5,272.5 L411.4,269.1 L413.3,265.9 L415.2,262.9 L417.1,260.0 L419.0,257.5 L420.9,255.4 L422.7,253.7 L424.6,252.6 L426.5,252.0 L428.4,251.9 L430.3,252.5 L432.2,253.5 L434.1,255.2 L436.0,257.4 L437.9,259.9 L439.8,262.6 L441.6,265.2 L443.5,267.6 L445.4,269.5 L447.3,270.9 L449.2,271.7 L451.1,272.2 L453.0,272.3 L454.9,272.3 L456.8,272.2 L458.7,272.1 L460.5,272.1 L462.4,272.0 L464.3,271.9 L466.2,271.8 L468.1,271.5 L470.0,270.9 L471.9,270.2 L473.8,269.2 L475.7,268.1 L477.6,266.8 L479.4,265.6 L481.3,264.4 L483.2,263.3 L485.1,262.5 L487.0,262.0 L488.9,261.9 L490.8,262.0 L492.7,262.4 L494.6,262.7 L496.5,263.1 L498.3,263.6 L500.2,264.0 L502.1,264.5 L504.0,264.9 L505.9,265.3 L507.8,265.7 L509.7,266.1 L511.6,266.5 L513.5,266.8 L515.4,267.1 L517.2,267.4 L519.1,267.5 L521.0,267.7 L522.9,267.7 L524.8,267.7 L526.7,267.6 L528.6,267.4 L530.5,267.2 L532.4,266.8 L534.2,266.4 L536.1,265.9 L538.0,265.3 L539.9,264.6 L541.8,263.9 L543.7,263.1 L545.6,262.2 L547.5,261.3 L549.4,260.3 L551.3,259.3 L553.1,258.2 L555.0,257.0 L556.9,255.9 L558.8,254.7 L560.7,253.4 L562.6,252.2 L564.5,250.9 L566.4,249.6 L568.3,248.2 L570.2,246.7 L572.0,245.3 L573.9,243.7 L575.8,242.1 L577.7,240.5 L579.6,238.8 L581.5,237.0 L583.4,235.1 L585.3,233.2 L587.2,231.3 L589.1,229.3 L591.0,227.3 L592.8,225.2 L594.7,223.0 L596.6,220.9 L598.5,218.7 L600.4,216.5 L602.3,214.2 L604.2,212.0 L606.1,209.7 L608.0,207.4" fill="none" stroke="#E7298A" stroke-width="3.05" stroke-linejoin="round"/>
<rect x="64.4" y="34.4" width="303.30" height="478.60" fill="none" stroke="#b3b3b3" stroke-width="1.1"/>
<rect x="375.1" y="34.4" width="303.20" height="478.60" fill="none" stroke="#b3b3b3" stroke-width="1.1"/>
<text class="st" x="216.1" y="26.8" text-anchor="middle">General population</text>
<text class="st" x="526.7" y="26.8" text-anchor="middle">Autism</text>
<text class="ax" x="58" y="425.2" text-anchor="end">50</text>
<text class="ax" x="58" y="280.0" text-anchor="end">100</text>
<text class="ax" x="58" y="134.8" text-anchor="end">150</text>
<text class="ax" x="115.9" y="532.3" text-anchor="middle">20</text>
<text class="ax" x="191.5" y="532.3" text-anchor="middle">40</text>
<text class="ax" x="267.1" y="532.3" text-anchor="middle">60</text>
<text class="ax" x="342.7" y="532.3" text-anchor="middle">80</text>
<text class="ax" x="426.5" y="532.3" text-anchor="middle">20</text>
<text class="ax" x="502.1" y="532.3" text-anchor="middle">40</text>
<text class="ax" x="577.7" y="532.3" text-anchor="middle">60</text>
<text class="ax" x="653.3" y="532.3" text-anchor="middle">80</text>
<text class="ti" x="371.3" y="554.3" text-anchor="middle">Age</text>
<text class="ti" transform="translate(23.5,274.1) rotate(-90)" text-anchor="middle" textLength="206" lengthAdjust="spacing">CAT−Q/SE total score</text>
</svg></body></html>
